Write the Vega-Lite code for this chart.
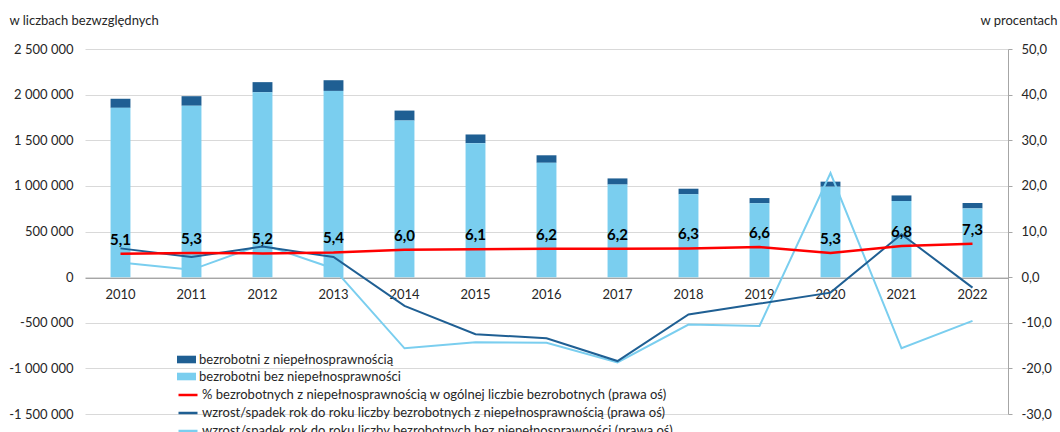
{
  "$schema": "https://vega.github.io/schema/vega-lite/v6.json",
  "width": 923,
  "height": 365,
  "autosize": {"type": "none"},
  "padding": {"left": 85, "top": 49, "right": 52, "bottom": 18},
  "background": "white",
  "config": {
    "font": "Lato",
    "view": {"stroke": null},
    "locale": {"number": {"decimal": ",", "thousands": " ", "grouping": [3], "currency": ["", " zł"], "minus": "-"}}
  },
  "datasets": {
    "bars": [
      {"rok": "2010", "kat": "bezrobotni z niepełnosprawnością", "liczba": 99600},
      {"rok": "2010", "kat": "bezrobotni bez niepełnosprawności", "liczba": 1855100},
      {"rok": "2011", "kat": "bezrobotni z niepełnosprawnością", "liczba": 104600},
      {"rok": "2011", "kat": "bezrobotni bez niepełnosprawności", "liczba": 1878100},
      {"rok": "2012", "kat": "bezrobotni z niepełnosprawnością", "liczba": 111100},
      {"rok": "2012", "kat": "bezrobotni bez niepełnosprawności", "liczba": 2025700},
      {"rok": "2013", "kat": "bezrobotni z niepełnosprawnością", "liczba": 117000},
      {"rok": "2013", "kat": "bezrobotni bez niepełnosprawności", "liczba": 2040900},
      {"rok": "2014", "kat": "bezrobotni z niepełnosprawnością", "liczba": 109500},
      {"rok": "2014", "kat": "bezrobotni bez niepełnosprawności", "liczba": 1715700},
      {"rok": "2015", "kat": "bezrobotni z niepełnosprawnością", "liczba": 95600},
      {"rok": "2015", "kat": "bezrobotni bez niepełnosprawności", "liczba": 1467700},
      {"rok": "2016", "kat": "bezrobotni z niepełnosprawnością", "liczba": 82400},
      {"rok": "2016", "kat": "bezrobotni bez niepełnosprawności", "liczba": 1252800},
      {"rok": "2017", "kat": "bezrobotni z niepełnosprawnością", "liczba": 67700},
      {"rok": "2017", "kat": "bezrobotni bez niepełnosprawności", "liczba": 1014000},
      {"rok": "2018", "kat": "bezrobotni z niepełnosprawnością", "liczba": 61200},
      {"rok": "2018", "kat": "bezrobotni bez niepełnosprawności", "liczba": 907700},
      {"rok": "2019", "kat": "bezrobotni z niepełnosprawnością", "liczba": 57200},
      {"rok": "2019", "kat": "bezrobotni bez niepełnosprawności", "liczba": 809200},
      {"rok": "2020", "kat": "bezrobotni z niepełnosprawnością", "liczba": 55400},
      {"rok": "2020", "kat": "bezrobotni bez niepełnosprawności", "liczba": 991000},
      {"rok": "2021", "kat": "bezrobotni z niepełnosprawnością", "liczba": 60800},
      {"rok": "2021", "kat": "bezrobotni bez niepełnosprawności", "liczba": 834400},
      {"rok": "2022", "kat": "bezrobotni z niepełnosprawnością", "liczba": 59500},
      {"rok": "2022", "kat": "bezrobotni bez niepełnosprawności", "liczba": 752800}
    ],
    "lines": [
      {"rok": "2010", "udzial": 5.1, "zmiana_z": 6.3, "zmiana_bez": 3.2},
      {"rok": "2011", "udzial": 5.3, "zmiana_z": 4.4, "zmiana_bez": 1.6},
      {"rok": "2012", "udzial": 5.2, "zmiana_z": 6.7, "zmiana_bez": 7.2},
      {"rok": "2013", "udzial": 5.4, "zmiana_z": 4.4, "zmiana_bez": 1.9},
      {"rok": "2014", "udzial": 6.0, "zmiana_z": -6.3, "zmiana_bez": -15.6},
      {"rok": "2015", "udzial": 6.1, "zmiana_z": -12.5, "zmiana_bez": -14.3},
      {"rok": "2016", "udzial": 6.2, "zmiana_z": -13.4, "zmiana_bez": -14.4},
      {"rok": "2017", "udzial": 6.2, "zmiana_z": -18.4, "zmiana_bez": -18.7},
      {"rok": "2018", "udzial": 6.3, "zmiana_z": -8.2, "zmiana_bez": -10.4},
      {"rok": "2019", "udzial": 6.6, "zmiana_z": -5.8, "zmiana_bez": -10.7},
      {"rok": "2020", "udzial": 5.3, "zmiana_z": -3.4, "zmiana_bez": 22.8},
      {"rok": "2021", "udzial": 6.8, "zmiana_z": 9.4, "zmiana_bez": -15.6},
      {"rok": "2022", "udzial": 7.3, "zmiana_z": -2.3, "zmiana_bez": -9.6}
    ]
  },
  "encoding": {
    "x": {
      "field": "rok",
      "type": "nominal",
      "scale": {"paddingInner": 0.72, "paddingOuter": 0.36},
      "axis": {
        "title": null,
        "orient": "bottom",
        "offset": -136,
        "labelAngle": 0,
        "ticks": false,
        "domainColor": "#A6A6A6",
        "domainWidth": 1,
        "labelPadding": 10,
        "labelFontSize": 13,
        "labelColor": "#262626",
        "grid": false
      }
    }
  },
  "layer": [
    {
      "data": {"name": "bars"},
      "mark": {"type": "bar"},
      "encoding": {
        "y": {
          "field": "liczba",
          "type": "quantitative",
          "stack": "zero",
          "scale": {"domain": [-1500000, 2500000], "nice": false, "zero": false},
          "axis": {
            "orient": "left",
            "title": "w liczbach bezwzględnych",
            "titleAngle": 0,
            "titleAlign": "left",
            "titleBaseline": "middle",
            "titleX": -76,
            "titleY": -29,
            "titleFontSize": 13,
            "titleFontWeight": "normal",
            "titleColor": "#262626",
            "values": [-1500000, -1000000, -500000, 0, 500000, 1000000, 1500000, 2000000, 2500000],
            "format": ",d",
            "domain": false,
            "ticks": false,
            "grid": true,
            "gridColor": "#D9D9D9",
            "labelPadding": 12,
            "labelFontSize": 13,
            "labelColor": "#262626"
          }
        },
        "color": {
          "field": "kat",
          "type": "nominal",
          "scale": {
            "domain": ["bezrobotni z niepełnosprawnością", "bezrobotni bez niepełnosprawności"],
            "range": ["#1F5F93", "#7ACEEF"]
          },
          "legend": {
            "title": null,
            "orient": "none",
            "legendX": 92,
            "legendY": 301,
            "symbolType": "M-1,-0.4H1V0.4H-1Z",
            "symbolSize": 361,
            "symbolStrokeWidth": 0,
            "labelFontSize": 13,
            "labelColor": "#262626",
            "labelOffset": 3,
            "labelLimit": 0,
            "rowPadding": -2
          }
        },
        "order": {"field": "kat", "sort": "ascending"}
      }
    },
    {
      "data": {"name": "lines"},
      "encoding": {
        "y": {
          "type": "quantitative",
          "scale": {"domain": [-30, 50], "nice": false, "zero": false},
          "axis": {
            "orient": "right",
            "title": "w procentach",
            "titleAngle": 0,
            "titleAlign": "right",
            "titleBaseline": "middle",
            "titleX": 49,
            "titleY": -29,
            "titleFontSize": 13,
            "titleFontWeight": "normal",
            "titleColor": "#262626",
            "values": [-30, -20, -10, 0, 10, 20, 30, 40, 50],
            "format": ".1f",
            "domain": true,
            "domainColor": "#A6A6A6",
            "ticks": true,
            "tickColor": "#A6A6A6",
            "tickSize": 4,
            "grid": false,
            "labelPadding": 9,
            "labelFontSize": 13,
            "labelColor": "#262626"
          }
        }
      },
      "layer": [
        {
          "mark": {"type": "line", "strokeWidth": 2},
          "encoding": {
            "y": {"field": "zmiana_bez", "type": "quantitative"},
            "stroke": {
              "datum": "wzrost/spadek rok do roku liczby bezrobotnych bez niepełnosprawności (prawa oś)",
              "scale": {
                "domain": [
                  "% bezrobotnych z niepełnosprawnością w ogólnej liczbie bezrobotnych (prawa oś)",
                  "wzrost/spadek rok do roku liczby bezrobotnych z niepełnosprawnością (prawa oś)",
                  "wzrost/spadek rok do roku liczby bezrobotnych bez niepełnosprawności (prawa oś)"
                ],
                "range": ["#FF0000", "#1F5F93", "#7ACEEF"]
              },
              "legend": {
                "title": null,
                "orient": "none",
                "legendX": 92,
                "legendY": 335,
                "symbolType": "stroke",
                "symbolSize": 361,
                "symbolStrokeWidth": 2.5,
                "labelFontSize": 13,
                "labelColor": "#262626",
                "labelOffset": 3,
                "labelLimit": 0,
                "rowPadding": -2
              }
            }
          }
        },
        {
          "mark": {"type": "line", "strokeWidth": 2},
          "encoding": {
            "y": {"field": "zmiana_z", "type": "quantitative"},
            "stroke": {"datum": "wzrost/spadek rok do roku liczby bezrobotnych z niepełnosprawnością (prawa oś)"}
          }
        },
        {
          "mark": {"type": "line", "strokeWidth": 2.5},
          "encoding": {
            "y": {"field": "udzial", "type": "quantitative"},
            "stroke": {"datum": "% bezrobotnych z niepełnosprawnością w ogólnej liczbie bezrobotnych (prawa oś)"}
          }
        },
        {
          "mark": {"type": "text", "fontSize": 15, "fontWeight": "bold", "color": "black", "dy": -14},
          "encoding": {
            "y": {"field": "udzial", "type": "quantitative"},
            "text": {"field": "udzial", "type": "quantitative", "format": ".1f"}
          }
        }
      ]
    }
  ],
  "resolve": {"scale": {"y": "independent"}}
}
